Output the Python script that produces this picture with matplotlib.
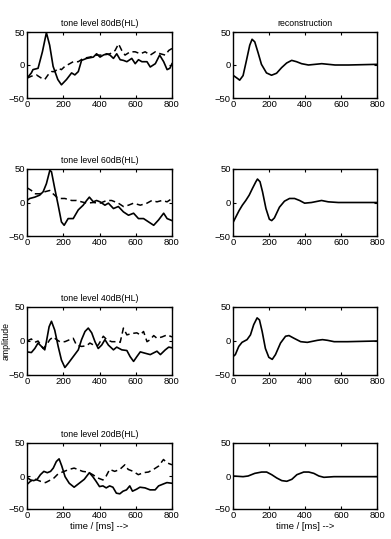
import matplotlib
matplotlib.use('Agg')
import matplotlib.pyplot as plt

plt.rcParams['font.family'] = ['Liberation Sans', 'DejaVu Sans']

titles = ['tone level 80dB(HL)', 'tone level 60dB(HL)', 'tone level 40dB(HL)', 'tone level 20dB(HL)']
xticks = [0, 200, 400, 600, 800]
yticks = [-50, 0, 50]

# 80 dB measured (solid) and dashed
t80_s = [0, 24, 33, 61, 85, 107, 125, 144, 170, 190, 218, 246, 264, 283, 301, 329, 366, 384, 403, 421, 440, 458, 477, 495, 514, 532, 551, 578, 597, 615, 634, 662, 680, 708, 732, 754, 773, 788, 800]
y80_s = [-20, -12, -7, -5, 20, 49, 30, -2, -22, -30, -22, -12, -15, -10, 7, 10, 12, 17, 12, 15, 17, 15, 10, 17, 8, 7, 5, 10, 2, 8, 5, 5, -3, 2, 15, 5, -7, -5, 2]
t80_d = [0, 24, 52, 80, 98, 116, 135, 153, 172, 190, 209, 236, 255, 283, 310, 347, 384, 421, 458, 486, 505, 523, 541, 569, 597, 625, 652, 680, 708, 736, 763, 782, 800]
y80_d = [-20, -17, -15, -20, -22, -15, -10, -10, -5, -7, -2, 2, 5, 5, 10, 12, 15, 15, 17, 22, 32, 22, 15, 20, 20, 17, 20, 15, 20, 17, 15, 22, 25]
# 80 dB reconstruction
t80_r = [0, 28, 37, 56, 74, 93, 106, 121, 140, 158, 186, 214, 242, 270, 298, 326, 353, 381, 419, 493, 567, 642, 800]
y80_r = [-15.5, -21, -23, -16, 6, 30, 39, 35, 18, 1, -12, -15.5, -12.5, -4, 3, 7, 5, 2, 0, 2, 0, 0, 1]

# 60 dB
t60_s = [0, 15, 43, 70, 89, 107, 126, 135, 153, 172, 190, 205, 227, 255, 283, 310, 329, 344, 366, 384, 403, 430, 449, 477, 504, 532, 560, 588, 615, 643, 671, 699, 726, 754, 773, 800]
y60_s = [3, 6, 8, 11, 16, 28, 48, 46, 21, -4, -29, -34, -24, -24, -11, -4, 3, 8, 1, 3, 1, -4, -1, -9, -6, -14, -19, -16, -24, -24, -29, -34, -26, -16, -24, -27]
t60_d = [0, 24, 43, 70, 98, 126, 144, 172, 209, 246, 273, 301, 329, 366, 403, 440, 467, 504, 532, 560, 588, 625, 662, 689, 717, 745, 773, 800]
y60_d = [22, 18, 13, 13, 16, 18, 13, 6, 6, 3, 3, 1, -1, 0, -1, 3, 3, -1, -6, -4, -1, -4, -1, 3, 1, 3, 1, 6]
t60_r = [0, 15, 34, 52, 71, 90, 108, 127, 136, 150, 164, 183, 202, 215, 230, 258, 286, 314, 342, 370, 398, 436, 492, 529, 585, 800]
y60_r = [-30, -22, -12, -4, 3, 11, 21, 31, 35, 31, 16, -9, -25, -27, -23, -7, 2, 6, 6, 3, -1, 0, 3, 1, 0, 0]

# 40 dB
t40_s = [0, 24, 43, 61, 80, 98, 107, 122, 135, 153, 172, 190, 209, 227, 255, 283, 301, 320, 338, 357, 375, 393, 412, 430, 449, 477, 495, 523, 551, 569, 588, 606, 625, 652, 680, 717, 736, 763, 782, 800]
y40_s = [-16, -17, -11, -3, -8, -13, -1, 21, 29, 16, -8, -28, -39, -33, -23, -13, 2, 14, 19, 12, -1, -11, -6, 2, -6, -13, -9, -13, -14, -23, -30, -23, -16, -18, -20, -15, -20, -13, -9, -10]
t40_d = [0, 24, 43, 61, 89, 107, 126, 144, 163, 181, 209, 236, 255, 273, 301, 329, 347, 375, 393, 421, 440, 467, 495, 514, 532, 551, 578, 606, 625, 643, 662, 680, 699, 717, 745, 773, 800]
y40_d = [0, 3, -2, 0, -11, -6, 2, 6, 2, -1, -1, 2, 4, -6, -8, -7, -3, -7, -6, 7, 2, -1, -1, -2, 19, 9, 11, 12, 9, 14, -1, 2, 8, 4, 6, 9, 6]
t40_r = [0, 13, 32, 50, 78, 97, 115, 134, 147, 162, 180, 199, 218, 236, 264, 292, 311, 339, 376, 413, 469, 497, 525, 562, 636, 800]
y40_r = [-23, -20, -8, -2, 2, 9, 24, 34, 31, 14, -11, -24, -27, -20, -3, 7, 8, 4, -1, -2, 1, 2, 1, -1, -1, 0]

# 20 dB
t20_s = [0, 19, 37, 56, 74, 93, 112, 130, 145, 162, 177, 192, 210, 233, 260, 288, 316, 344, 363, 381, 400, 419, 437, 456, 474, 493, 512, 530, 549, 567, 582, 605, 623, 651, 679, 707, 726, 753, 772, 800]
y20_s = [-2, -6, -7, -5, 2, 7, 5, 7, 12, 22, 26, 15, -1, -11, -17, -11, -5, 5, -1, -8, -16, -15, -18, -15, -17, -26, -27, -23, -21, -15, -23, -20, -17, -18, -21, -21, -15, -12, -10, -11]
t20_d = [0, 19, 47, 74, 102, 130, 149, 167, 186, 205, 233, 260, 279, 307, 335, 363, 391, 419, 437, 456, 484, 512, 540, 558, 586, 614, 642, 670, 698, 726, 753, 772, 800]
y20_d = [-13, -8, -5, -8, -10, -6, -3, 2, 5, 7, 10, 12, 10, 7, 6, 2, -3, -6, 0, 10, 7, 10, 17, 10, 7, 2, 5, 6, 10, 15, 25, 20, 17]
t20_r = [0, 56, 84, 121, 159, 187, 215, 243, 271, 299, 327, 355, 393, 421, 449, 477, 505, 561, 800]
y20_r = [0, -1, 0, 4, 6, 6, 2, -3, -7, -8, -5, 2, 6, 6, 4, 0, -2, -1, -1]

measured = [(t80_s, y80_s, t80_d, y80_d), (t60_s, y60_s, t60_d, y60_d),
            (t40_s, y40_s, t40_d, y40_d), (t20_s, y20_s, t20_d, y20_d)]
recon = [(t80_r, y80_r), (t60_r, y60_r), (t40_r, y40_r), (t20_r, y20_r)]

fig = plt.figure(figsize=(3.91, 5.39), dpi=100)

row_tops = [32, 169, 307, 443]
row_bots = [98, 236, 375, 509]
W, H = 391.0, 539.0


def style(ax):
    ax.set_xlim(0, 800)
    ax.set_ylim(-50, 50)
    ax.set_xticks(xticks)
    ax.set_yticks(yticks)
    ax.tick_params(direction='in', length=2.5, width=0.8, labelsize=6.8, pad=1.5,
                   top=True, right=True)
    for s in ax.spines.values():
        s.set_linewidth(1.0)


for i in range(4):
    b = 1 - row_bots[i] / H
    h = (row_bots[i] - row_tops[i]) / H
    axl = fig.add_axes([27 / W, b, 145 / W, h])
    ts, ys, td, yd = measured[i]
    axl.plot(ts, ys, color='black', lw=1.2)
    axl.plot(td, yd, color='black', lw=1.1, ls=(0, (4, 2.5)))
    style(axl)
    axl.set_title(titles[i], fontsize=6.3, pad=4)

    axr = fig.add_axes([233 / W, b, 144 / W, h])
    tr, yr = recon[i]
    axr.plot(tr, yr, color='black', lw=1.2)
    style(axr)
    if i == 0:
        axr.set_title('reconstruction', fontsize=6.3, pad=4)
    if i == 2:
        axl.set_ylabel('amplitude', fontsize=6.3, labelpad=-1)
    if i == 3:
        axl.set_xlabel('time / [ms] -->', fontsize=6.8, labelpad=1.5)
        axr.set_xlabel('time / [ms] -->', fontsize=6.8, labelpad=1.5)

fig.savefig('out.png', dpi=100)
